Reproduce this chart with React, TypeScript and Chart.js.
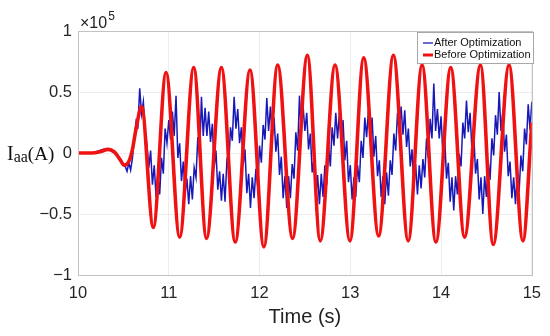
import React, { useEffect, useRef } from 'react';
import { Chart, registerables } from 'chart.js';

Chart.register(...registerables);

// Axis ticks (current in units of 1e5 A, time in s)
const xTickValues = [10, 11, 12, 13, 14, 15];
const yTickValues = [-1, -0.5, 0, 0.5, 1];

// "Before Optimization" (red): turning points
const redTime = [
  10.0, 10.15, 10.25, 10.33, 10.4, 10.46, 10.51, 10.56, 10.6, 10.64, 10.7,
  10.83, 10.97, 11.12, 11.275, 11.416, 11.58, 11.732, 11.895, 12.048, 12.2,
  12.364, 12.527, 12.669, 12.832, 12.996, 13.148, 13.312, 13.475, 13.638,
  13.791, 13.943, 14.107, 14.259, 14.434, 14.575, 14.749, 14.902, 15.0,
];
const redValue = [
  0, 0, 0.012, 0.03, 0.01, -0.05, -0.1, -0.07, 0.03, 0.2, 0.38,
  -0.61, 0.66, -0.69, 0.7, -0.7, 0.7, -0.73, 0.68, -0.77, 0.72,
  -0.7, 0.8, -0.72, 0.72, -0.72, 0.78, -0.68, 0.8, -0.72,
  0.72, -0.73, 0.7, -0.69, 0.72, -0.75, 0.72, -0.72, 0.25,
];

// "After Optimization" (blue): sampled every 0.02 s from 10.00 s to 15.00 s
const blueStart = 10;
const blueStep = 0.02;
const blueValue = [
  0, 0, 0, 0, 0, 0, 0, 0, 0.002, 0.005,
  0.01, 0.015, 0.02, 0.025, 0.03, 0.03, 0.03, 0.025, 0.02, 0.01,
  0.0, -0.015, -0.03, -0.05, -0.07, -0.09, -0.11, -0.15, -0.08, -0.14,
  -0.04, 0.12, 0.26, 0.22, 0.53, 0.32, 0.42, 0.18, 0.06, -0.12,
  0.02, -0.26, -0.1, -0.36, -0.17, -0.34, -0.04, -0.17, 0.2, 0.08,
  0.27, 0.11, 0.34, 0.14, 0.47, -0.04, 0.08, -0.23, -0.07, -0.33,
  -0.21, -0.42, -0.19, -0.38, -0.12, -0.2, 0.13, -0.04, 0.46, 0.14,
  0.37, 0.14, 0.34, 0.09, 0.24, -0.12, 0.02, -0.3, -0.15, -0.39,
  -0.17, -0.4, -0.07, -0.13, 0.21, 0.1, 0.46, 0.2, 0.36, 0.08,
  0.21, -0.1, 0.03, -0.33, -0.17, -0.45, -0.2, -0.37, -0.13, -0.27,
  0.06, -0.08, 0.23, 0.11, 0.45, 0.18, 0.38, 0.13, 0.29, 0.01,
  0.16, -0.18, -0.03, -0.37, -0.19, -0.45, -0.19, -0.37, -0.09, -0.21,
  0.17, 0.02, 0.47, 0.17, 0.38, 0.18, 0.33, 0.03, 0.16, -0.16,
  -0.05, -0.37, -0.18, -0.42, -0.17, -0.36, -0.1, -0.26, 0.06, -0.11,
  0.21, 0.06, 0.33, 0.12, 0.33, 0.11, 0.27, -0.06, 0.1, -0.24,
  -0.1, -0.38, -0.2, -0.36, -0.1, -0.24, 0.1, -0.04, 0.29, 0.13,
  0.35, 0.12, 0.29, -0.03, 0.14, -0.19, -0.06, -0.36, -0.19, -0.42,
  -0.16, -0.35, -0.06, -0.18, 0.16, 0.02, 0.33, 0.16, 0.38, 0.15,
  0.35, 0.05, 0.2, -0.11, 0.03, -0.28, -0.09, -0.34, -0.1, -0.29,
  -0.05, -0.2, 0.12, -0.04, 0.28, 0.12, 0.57, 0.18, 0.36, 0.12,
  0.3, -0.01, 0.13, -0.21, -0.08, -0.4, -0.2, -0.47, -0.19, -0.34,
  -0.01, -0.11, 0.25, 0.12, 0.43, 0.17, 0.33, 0.02, 0.17, -0.17,
  -0.05, -0.38, -0.2, -0.5, -0.19, -0.36, -0.07, -0.22, 0.12, -0.02,
  0.31, 0.15, 0.5, 0.18, 0.33, 0.01, 0.15, -0.19, -0.07, -0.37,
  -0.2, -0.42, -0.15, -0.32, -0.02, -0.15, 0.2, 0.07, 0.4, 0.19,
  0.42,
];

const legendLabels = ['After Optimization', 'Before Optimization'];
const BLUE = '#1818b8';
const RED = '#f01212';
const SANS = '"Liberation Sans", Arial, Helvetica, sans-serif';
const SERIF = '"Liberation Serif", "Times New Roman", serif';

const fmt = (v: number) => {
  const s = String(Math.round(v * 100) / 100);
  return s.replace('-', '\u2212');
};

const decorations = {
  id: 'decorations',
  afterDraw(chart: any) {
    const { ctx, chartArea } = chart;
    const { left, right, top, bottom } = chartArea;
    ctx.save();
    // axes box
    ctx.strokeStyle = '#c2c2c2';
    ctx.lineWidth = 1;
    ctx.strokeRect(Math.round(left) + 0.5, Math.round(top) + 0.5, Math.round(right - left), Math.round(bottom - top));

    // legend
    const lx = 417, ly = 32, lw = 116, lh = 31;
    ctx.fillStyle = '#ffffff';
    ctx.fillRect(lx, ly, lw, lh);
    ctx.strokeStyle = '#a8a8a8';
    ctx.strokeRect(lx + 0.5, ly + 0.5, lw, lh);
    ctx.lineCap = 'butt';
    ctx.strokeStyle = BLUE;
    ctx.lineWidth = 1.3;
    ctx.beginPath();
    ctx.moveTo(423, 43);
    ctx.lineTo(433, 43);
    ctx.stroke();
    ctx.strokeStyle = RED;
    ctx.lineWidth = 3;
    ctx.beginPath();
    ctx.moveTo(423, 55);
    ctx.lineTo(433, 55);
    ctx.stroke();
    ctx.fillStyle = '#111';
    ctx.font = `11px ${SANS}`;
    ctx.textAlign = 'left';
    ctx.textBaseline = 'middle';
    ctx.fillText(legendLabels[0], 434, 43);
    ctx.fillText(legendLabels[1], 434, 55);

    // x title
    ctx.fillStyle = '#222';
    ctx.font = `20px ${SANS}`;
    ctx.textAlign = 'center';
    ctx.textBaseline = 'middle';
    ctx.fillText('Time (s)', (left + right) / 2, 317);

    // exponent label
    ctx.textAlign = 'left';
    ctx.textBaseline = 'alphabetic';
    ctx.font = `16px ${SANS}`;
    ctx.fillText('\u00d710', 80, 28);
    const w10 = ctx.measureText('\u00d710').width;
    ctx.font = `12px ${SANS}`;
    ctx.fillText('5', 80 + w10 + 1, 20);

    // y title I_aa(A)
    ctx.fillStyle = '#111';
    let x = 7;
    ctx.font = `20px ${SERIF}`;
    ctx.fillText('I', x, 160);
    x += ctx.measureText('I').width;
    ctx.font = `16px ${SERIF}`;
    ctx.fillText('aa', x, 162);
    x += ctx.measureText('aa').width;
    ctx.font = `19px ${SERIF}`;
    ctx.fillText('(A)', x, 160);
    ctx.restore();
  },
};

export default function App() {
  const canvasRef = useRef<HTMLCanvasElement | null>(null);

  useEffect(() => {
    document.body.style.margin = '0';
    const canvas = canvasRef.current;
    if (!canvas) return;
    const redData = redTime.map((t, i) => ({ x: t, y: redValue[i] }));
    const blueData = blueValue.map((v, i) => ({ x: blueStart + i * blueStep, y: v }));

    const chart = new Chart(canvas, {
      type: 'line',
      data: {
        datasets: [
          {
            label: legendLabels[1],
            data: redData,
            borderColor: RED,
            borderWidth: 3.6,
            pointRadius: 0,
            cubicInterpolationMode: 'monotone',
            fill: false,
          },
          {
            label: legendLabels[0],
            data: blueData,
            borderColor: BLUE,
            borderWidth: 1.5,
            pointRadius: 0,
            tension: 0,
            fill: false,
          },
        ],
      },
      options: {
        responsive: false,
        animation: false,
        events: [],
        layout: { padding: { top: 31, right: 12, left: 0, bottom: 0 } },
        plugins: {
          legend: { display: false },
          tooltip: { enabled: false },
        },
        scales: {
          x: {
            type: 'linear',
            min: 10,
            max: 15,
            afterFit: (s: any) => { s.height = 61; },
            afterBuildTicks: (s: any) => { s.ticks = xTickValues.map((v) => ({ value: v })); },
            ticks: {
              color: '#262626',
              font: { size: 16.5, family: SANS },
              padding: 9,
              maxRotation: 0,
              callback: (v: any) => fmt(Number(v)),
            },
            grid: { color: 'rgba(0,0,0,0.07)', drawTicks: false },
            border: { display: false },
          },
          y: {
            type: 'linear',
            min: -1,
            max: 1,
            afterFit: (s: any) => { s.width = 78; },
            afterBuildTicks: (s: any) => { s.ticks = yTickValues.map((v) => ({ value: v })); },
            ticks: {
              color: '#262626',
              font: { size: 16.5, family: SANS },
              padding: 6,
              callback: (v: any) => fmt(Number(v)),
            },
            grid: { color: 'rgba(0,0,0,0.07)', drawTicks: false },
            border: { display: false },
          },
        },
      },
      plugins: [decorations],
    });
    return () => chart.destroy();
  }, []);

  return (
    <div style={{ width: 550, height: 336, background: '#fff' }}>
      <canvas ref={canvasRef} width={550} height={336} style={{ display: 'block' }} />
    </div>
  );
}
